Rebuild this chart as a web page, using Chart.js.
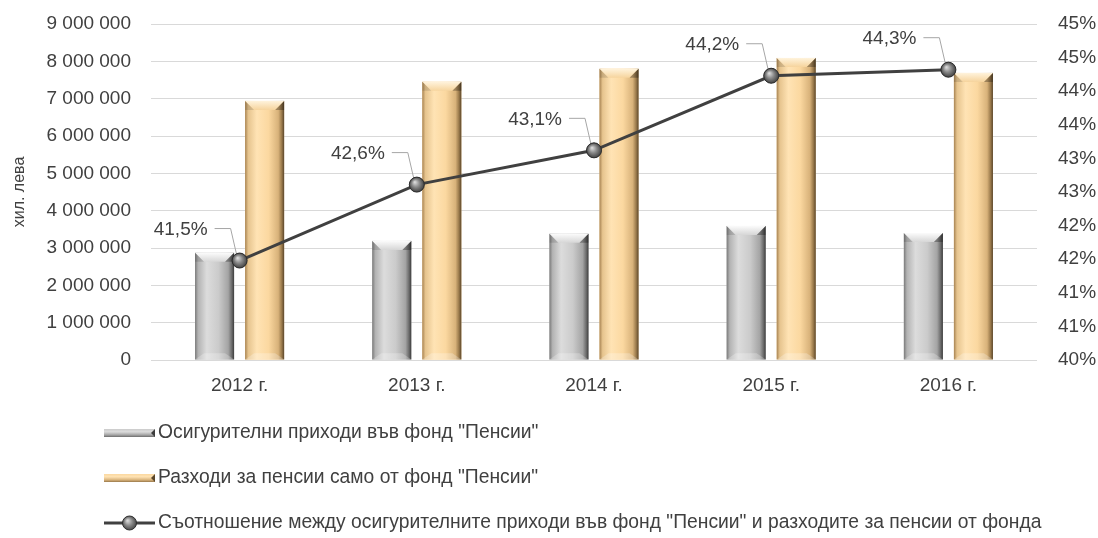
<!DOCTYPE html>
<html>
<head>
<meta charset="utf-8">
<script src="https://cdn.jsdelivr.net/npm/chart.js@4.4.1/dist/chart.umd.min.js"></script>
<style>
html,body{margin:0;padding:0;background:#fff;}
#wrap{width:1098px;height:538px;position:relative;}
</style>
</head>
<body>
<div id="wrap"><canvas id="c" width="1098" height="538"></canvas></div>
<script>
const categories = ['2012 г.', '2013 г.', '2014 г.', '2015 г.', '2016 г.'];
const revenues = [2870000, 3190000, 3380000, 3590000, 3400000];
const expenses = [6940000, 7450000, 7800000, 8090000, 7690000];
const ratios = [41.48, 42.61, 43.12, 44.23, 44.32];
const ratioLabels = ['41,5%', '42,6%', '43,1%', '44,2%', '44,3%'];
const seriesNames = [
  'Осигурителни приходи във фонд "Пенсии"',
  'Разходи за пенсии само от фонд "Пенсии"',
  'Съотношение между осигурителните приходи във фонд "Пенсии" и разходите за пенсии от фонда'
];
const leftTicks = [0, 1000000, 2000000, 3000000, 4000000, 5000000, 6000000, 7000000, 8000000, 9000000];
const axisTitle = 'хил. лева';

const FONT = 'Liberation Sans, Arial, sans-serif';
const TXT = '#404040';

const palettes = [
  { stops: [[0,'#7a7a7a'],[0.08,'#b3b3b3'],[0.3,'#dcdcdc'],[0.6,'#cbcbcb'],[0.85,'#a4a4a4'],[0.94,'#6c6c6c'],[1,'#3c3c3c']],
    topA: '#fbfbfb', topB: '#d6d6d6', bot: 'rgba(255,255,255,0.25)' },
  { stops: [[0,'#a88453'],[0.08,'#e6c48e'],[0.3,'#ffe3b4'],[0.6,'#fbd8a0'],[0.85,'#d8b27a'],[0.94,'#98784a'],[1,'#5a462b']],
    topA: '#fff3dc', topB: '#f6d49d', bot: 'rgba(255,255,255,0.25)' }
];

function hGrad(ctx, l, r, stops) {
  const g = ctx.createLinearGradient(l, 0, r, 0);
  stops.forEach(s => g.addColorStop(s[0], s[1]));
  return g;
}

function drawBevelBar(ctx, l, r, t, b, pal, bev) {
  ctx.save();
  ctx.fillStyle = hGrad(ctx, l, r, pal.stops);
  ctx.fillRect(l, t, r - l, b - t);
  const tg = ctx.createLinearGradient(0, t, 0, t + bev);
  tg.addColorStop(0, pal.topA);
  tg.addColorStop(1, pal.topB);
  ctx.fillStyle = tg;
  ctx.beginPath();
  ctx.moveTo(l, t); ctx.lineTo(r, t); ctx.lineTo(r - bev, t + bev); ctx.lineTo(l + bev, t + bev); ctx.closePath();
  ctx.fill();
  ctx.fillStyle = 'rgba(0,0,0,0.12)';
  ctx.beginPath(); ctx.moveTo(l, t); ctx.lineTo(l + bev, t + bev); ctx.lineTo(l, t + bev); ctx.closePath(); ctx.fill();
  ctx.fillStyle = 'rgba(0,0,0,0.28)';
  ctx.beginPath(); ctx.moveTo(r, t); ctx.lineTo(r - bev, t + bev); ctx.lineTo(r, t + bev); ctx.closePath(); ctx.fill();
  ctx.fillStyle = pal.bot;
  ctx.beginPath();
  ctx.moveTo(l, b); ctx.lineTo(r, b); ctx.lineTo(r - bev, b - bev * 0.7); ctx.lineTo(l + bev, b - bev * 0.7); ctx.closePath();
  ctx.fill();
  ctx.restore();
}

const bevelPlugin = {
  id: 'bevel',
  afterDatasetDraw(chart, args) {
    const meta = args.meta;
    if (meta.type !== 'bar') return;
    const pal = palettes[args.index];
    const ctx = chart.ctx;
    meta.data.forEach(el => {
      const p = el.getProps(['x', 'y', 'base', 'width'], true);
      drawBevelBar(ctx, p.x - p.width / 2, p.x + p.width / 2, p.y, p.base, pal, 9);
    });
  },
  afterDatasetsDraw(chart) {
    const ctx = chart.ctx;
    const meta = chart.getDatasetMeta(2);
    ctx.save();
    ctx.strokeStyle = '#a6a6a6';
    ctx.lineWidth = 1;
    meta.data.forEach(pt => {
      const x = pt.x, y = pt.y;
      ctx.beginPath();
      ctx.moveTo(x - 25, y - 32);
      ctx.lineTo(x - 9, y - 32);
      ctx.lineTo(x - 3, y - 6);
      ctx.stroke();
    });
    meta.data.forEach(pt => {
      const x = pt.x, y = pt.y;
      const g = ctx.createRadialGradient(x - 2, y - 2.5, 0.5, x, y, 8);
      g.addColorStop(0, '#d8d8d8');
      g.addColorStop(0.45, '#8a8a8a');
      g.addColorStop(1, '#3a3a3a');
      ctx.fillStyle = g;
      ctx.beginPath(); ctx.arc(x, y, 7.5, 0, Math.PI * 2); ctx.fill();
      ctx.strokeStyle = '#2e2e2e'; ctx.lineWidth = 1;
      ctx.stroke();
    });
    ctx.fillStyle = TXT;
    ctx.font = '19px ' + FONT;
    ctx.textAlign = 'right';
    ctx.textBaseline = 'middle';
    meta.data.forEach((pt, i) => {
      ctx.fillText(ratioLabels[i], pt.x - 32, pt.y - 31);
    });
    ctx.restore();
  },
  afterDraw(chart) {
    const ctx = chart.ctx;
    ctx.save();
    const x0 = 104, x1 = 155, tx = 158;
    const ys = [433, 478, 523];
    ctx.font = '19.3px ' + FONT;
    ctx.fillStyle = TXT;
    ctx.textAlign = 'left';
    ctx.textBaseline = 'middle';
    for (let i = 0; i < 2; i++) {
      const y = ys[i];
      const pal = palettes[i];
      const g = ctx.createLinearGradient(0, y - 4, 0, y + 4);
      g.addColorStop(0, pal.stops[3][1]);
      g.addColorStop(0.35, pal.stops[2][1]);
      g.addColorStop(0.75, pal.stops[4][1]);
      g.addColorStop(1, pal.stops[5][1]);
      ctx.fillStyle = g;
      ctx.fillRect(x0, y - 4, x1 - x0, 8);
      ctx.fillStyle = pal.stops[6][1];
      ctx.beginPath(); ctx.moveTo(x1, y - 4); ctx.lineTo(x1 - 4, y); ctx.lineTo(x1, y + 4); ctx.closePath(); ctx.fill();
      ctx.fillStyle = TXT;
      ctx.fillText(chart.data.datasets[i].label, tx, y);
    }
    const y = ys[2];
    ctx.strokeStyle = '#404040'; ctx.lineWidth = 3;
    ctx.beginPath(); ctx.moveTo(x0, y); ctx.lineTo(x1, y); ctx.stroke();
    const cx = (x0 + x1) / 2;
    const g = ctx.createRadialGradient(cx - 2, y - 2.5, 0.5, cx, y, 8);
    g.addColorStop(0, '#d8d8d8'); g.addColorStop(0.45, '#8a8a8a'); g.addColorStop(1, '#3a3a3a');
    ctx.fillStyle = g;
    ctx.beginPath(); ctx.arc(cx, y, 7, 0, Math.PI * 2); ctx.fill();
    ctx.strokeStyle = '#2e2e2e'; ctx.lineWidth = 1; ctx.stroke();
    ctx.fillStyle = TXT;
    ctx.fillText(chart.data.datasets[2].label, tx, y);
    ctx.restore();
  }
};

function fmtSpace(v) {
  return String(Math.round(v)).replace(/\B(?=(\d{3})+(?!\d))/g, ' ');
}

new Chart(document.getElementById('c'), {
  type: 'bar',
  data: {
    labels: categories,
    datasets: [
      { label: seriesNames[0], data: revenues, backgroundColor: '#c8c8c8', borderWidth: 0, yAxisID: 'y', order: 1,
        categoryPercentage: 0.565, barPercentage: 0.78 },
      { label: seriesNames[1], data: expenses, backgroundColor: '#fbd8a0', borderWidth: 0, yAxisID: 'y', order: 2,
        categoryPercentage: 0.565, barPercentage: 0.78 },
      { label: seriesNames[2], type: 'line', data: ratios, yAxisID: 'y1', order: 0,
        borderColor: '#404040', borderWidth: 3, pointRadius: 7, pointBackgroundColor: '#7a7a7a',
        pointBorderColor: '#2e2e2e', pointBorderWidth: 1, tension: 0, fill: false }
    ]
  },
  options: {
    responsive: false,
    animation: false,
    devicePixelRatio: 1,
    layout: { padding: { top: 24, left: 0, right: 0, bottom: 0 } },
    plugins: { legend: { display: false }, tooltip: { enabled: false } },
    scales: {
      x: {
        grid: { display: false },
        border: { display: false },
        ticks: { color: TXT, font: { family: FONT, size: 19 }, padding: 6 },
        afterFit(s) { s.height = 178; s.paddingTop = 0; s.paddingBottom = 0; }
      },
      y: {
        position: 'left',
        min: 0, max: 9000000,
        afterBuildTicks(s) { s.ticks = leftTicks.map(v => ({ value: v })); },
        ticks: { color: TXT, font: { family: FONT, size: 19 }, padding: 20, callback: v => fmtSpace(v) },
        grid: { color: '#d9d9d9', lineWidth: 1, drawTicks: false },
        border: { display: false },
        title: { display: true, text: axisTitle, color: TXT, font: { family: FONT, size: 16 }, padding: { top: 10, bottom: 0 } },
        afterFit(s) { s.width = 151; s.paddingTop = 0; s.paddingBottom = 0; }
      },
      y1: {
        position: 'right',
        min: 40, max: 45,
        ticks: { stepSize: 0.5, color: TXT, font: { family: FONT, size: 19 }, padding: 21, callback: v => Math.round(v) + '%' },
        grid: { display: false, drawTicks: false },
        border: { display: false },
        afterFit(s) { s.width = 61; s.paddingTop = 0; s.paddingBottom = 0; }
      }
    }
  },
  plugins: [bevelPlugin]
});
</script>
</body>
</html>
